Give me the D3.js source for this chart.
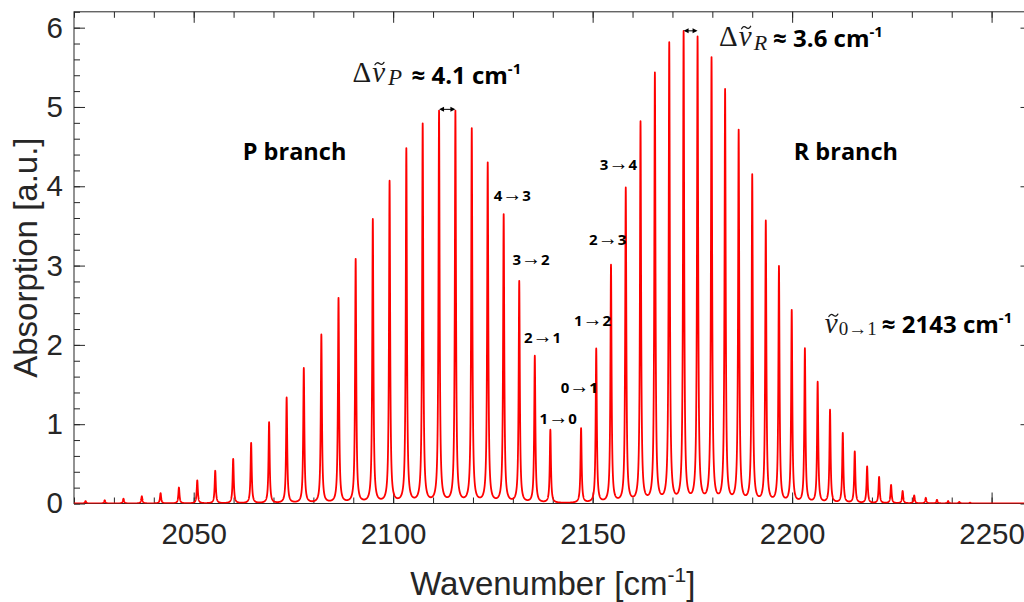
<!DOCTYPE html>
<html><head><meta charset="utf-8">
<script src="https://cdn.jsdelivr.net/npm/d3@7"></script>
<style>html,body{margin:0;padding:0;background:#fff;}svg{display:block;}</style>
</head><body>
<svg id="chart" width="1024" height="602"></svg>
<script>
// ---------------- DATA ----------------
const pBranchWavenumbers = [2022.9, 2027.7, 2032.4, 2037.0, 2041.7, 2046.3, 2050.9, 2055.4, 2059.9, 2064.4,
  2068.9, 2073.3, 2077.6, 2082.0, 2086.3, 2090.6, 2094.9, 2099.1, 2103.3, 2107.4, 2111.5, 2115.6, 2119.7,
  2123.7, 2127.7, 2131.6, 2135.5, 2139.4];
const pBranchAbsorption = [0.03, 0.04, 0.06, 0.09, 0.13, 0.20, 0.29, 0.41, 0.56, 0.76,
  1.02, 1.33, 1.70, 2.12, 2.58, 3.07, 3.57, 4.05, 4.46, 4.77, 4.93, 4.93, 4.71,
  4.28, 3.63, 2.79, 1.85, 0.92];
const rBranchWavenumbers = [2147.1, 2150.9, 2154.6, 2158.3, 2162.0, 2165.6, 2169.2, 2172.8, 2176.3, 2179.8,
  2183.2, 2186.6, 2190.0, 2193.4, 2196.7, 2199.9, 2203.2, 2206.4, 2209.5, 2212.7, 2215.7, 2218.8,
  2221.8, 2224.8, 2227.7, 2230.6, 2233.5, 2236.3, 2239.1, 2241.9, 2244.6];
const rBranchAbsorption = [0.94, 1.94, 2.99, 3.96, 4.79, 5.40, 5.78, 5.92, 5.85, 5.59,
  5.19, 4.68, 4.12, 3.54, 2.97, 2.42, 1.94, 1.52, 1.17, 0.88, 0.65, 0.46,
  0.33, 0.23, 0.155, 0.10, 0.07, 0.045, 0.03, 0.02, 0.01];
const lineHalfWidth = 0.17;           // Lorentzian HWHM, cm-1
const xTickValues = [2050, 2100, 2150, 2200, 2250];
const yTickValues = [0, 1, 2, 3, 4, 5, 6];
const xDomain = [2020, 2260];
const yDomain = [0, 6.2];
const xLabelText = "Wavenumber [cm";
const yLabelText = "Absorption [a.u.]";
const pTransitionLabels = [["4", "3"], ["3", "2"], ["2", "1"], ["1", "0"]];
const rTransitionLabels = [["0", "1"], ["1", "2"], ["2", "3"], ["3", "4"]];
const branchLabels = ["P branch", "R branch"];
const spacingP = "4.1";
const spacingR = "3.6";
const bandOrigin = "2143";

// ---------------- LAYOUT ----------------
const svg = d3.select("#chart");
const L = 74, R = 1031.5, T = 11.8, B = 503.5;
const x = d3.scaleLinear().domain(xDomain).range([L, R]);
const y = d3.scaleLinear().domain(yDomain).range([B, T]);
const axisColor = "#262626";
const tickFont = "'Liberation Sans', Arial, Helvetica, sans-serif";
const boldFont = "'Open Sans', 'Noto Sans', sans-serif";
const serifFont = "'Liberation Serif', 'Times New Roman', serif";

svg.append("defs").append("clipPath").attr("id", "plotclip")
  .append("rect").attr("x", L).attr("y", T).attr("width", R - L).attr("height", B - T);

function styleAxis(g) {
  g.select(".domain").remove();
  g.selectAll(".tick line").attr("stroke", axisColor).attr("stroke-width", 1);
  g.selectAll(".tick text").attr("fill", axisColor).style("font-family", tickFont).style("font-size", "29.5px");
}
const xMinor = x.ticks(24), yMinor = y.ticks(31);
// bottom
svg.append("g").attr("transform", `translate(0,${B})`)
  .call(d3.axisBottom(x).tickValues(xMinor).tickSize(-6).tickFormat("")).call(styleAxis);
svg.append("g").attr("transform", `translate(0,${B})`)
  .call(d3.axisBottom(x).tickValues(xTickValues).tickSize(-11).tickPadding(20).tickFormat(d3.format("d"))).call(styleAxis);
// top
svg.append("g").attr("transform", `translate(0,${T})`)
  .call(d3.axisTop(x).tickValues(xMinor).tickSize(-6).tickFormat("")).call(styleAxis);
svg.append("g").attr("transform", `translate(0,${T})`)
  .call(d3.axisTop(x).tickValues(xTickValues).tickSize(-11).tickFormat("")).call(styleAxis);
// left
svg.append("g").attr("transform", `translate(${L},0)`)
  .call(d3.axisLeft(y).tickValues(yMinor).tickSize(-6).tickFormat("")).call(styleAxis);
svg.append("g").attr("transform", `translate(${L},0)`)
  .call(d3.axisLeft(y).tickValues(yTickValues).tickSize(-11).tickPadding(11).tickFormat(d3.format("d"))).call(styleAxis);
// right
svg.append("g").attr("transform", `translate(${R},0)`)
  .call(d3.axisRight(y).tickValues(yMinor).tickSize(-6).tickFormat("")).call(styleAxis);
svg.append("g").attr("transform", `translate(${R},0)`)
  .call(d3.axisRight(y).tickValues(yTickValues).tickSize(-11).tickFormat("")).call(styleAxis);
// frame
svg.append("rect").attr("x", L).attr("y", T).attr("width", R - L).attr("height", B - T)
  .attr("fill", "none").attr("stroke", axisColor).attr("stroke-width", 1);

// axis labels
const xl = svg.append("text").attr("x", (L + R) / 2).attr("y", 595).attr("text-anchor", "middle")
  .attr("fill", axisColor).style("font-family", tickFont).style("font-size", "33px");
xl.append("tspan").text(xLabelText);
xl.append("tspan").attr("dy", -13).style("font-size", "21px").text("-1");
xl.append("tspan").attr("dy", 13).text("]");
svg.append("text").attr("transform", `translate(37,${(T + B) / 2}) rotate(-90)`).attr("text-anchor", "middle")
  .attr("fill", axisColor).style("font-family", tickFont).style("font-size", "33px").text(yLabelText);

// ---------------- SPECTRUM ----------------
const peaks = pBranchWavenumbers.map((w, i) => [w, pBranchAbsorption[i]])
  .concat(rBranchWavenumbers.map((w, i) => [w, rBranchAbsorption[i]]));
const g2 = lineHalfWidth * lineHalfWidth;
function absorbance(w) {
  let s = 0;
  for (const [c, h] of peaks) s += h * g2 / ((w - c) * (w - c) + g2);
  return s;
}
const grid = d3.range(xDomain[0], xDomain[1] + 0.001, 0.02).concat(peaks.map(p => p[0])).sort((a, b) => a - b);
const spectrum = grid.map(w => [w, absorbance(w)]);
svg.append("path").datum(spectrum).attr("clip-path", "url(#plotclip)")
  .attr("fill", "none").attr("stroke", "#ff0000").attr("stroke-width", 1.8).attr("stroke-linejoin", "round")
  .attr("d", d3.line().x(d => x(d[0])).y(d => y(d[1])));

// ---------------- ANNOTATIONS ----------------
function boldText(px, py, size, txt) {
  return svg.append("text").attr("x", px).attr("y", py).attr("fill", "#000")
    .style("font-family", boldFont).style("font-weight", 700).style("font-size", size + "px").text(txt);
}
boldText(x(2062.3), y(4.33), 23.5, branchLabels[0]);
boldText(x(2200.4), y(4.33), 23.5, branchLabels[1]);

function transition(px, py, pair) {
  const t = svg.append("text").attr("x", px).attr("y", py).attr("fill", "#000")
    .style("font-family", boldFont).style("font-weight", 700).style("font-size", "15px");
  t.append("tspan").text(pair[0]);
  t.append("tspan").style("font-family", serifFont).style("font-weight", 400).style("font-size", "20px").text("\u2192");
  t.append("tspan").text(pair[1]);
}
const pLabelPos = [[2125.2, 3.81], [2129.9, 3.01], [2132.8, 2.02], [2136.7, 1.0]];
const rLabelPos = [[2142.0, 1.39], [2145.3, 2.24], [2149.1, 3.26], [2151.8, 4.21]];
pTransitionLabels.forEach((p, i) => transition(x(pLabelPos[i][0]), y(pLabelPos[i][1]), p));
rTransitionLabels.forEach((p, i) => transition(x(rLabelPos[i][0]), y(rLabelPos[i][1]), p));

// math-style label + bold value, in one text element; the tilde accent is a small path
function mathLabel(px, py, withDelta, sub, subSize, subDx, subDy, valDx, valDy, val) {
  const t = svg.append("text").attr("x", px).attr("y", py).attr("fill", "#1a1a1a")
    .style("font-family", serifFont).style("font-size", "29px");
  if (withDelta) t.append("tspan").text("\u0394");
  t.append("tspan").attr("dx", withDelta ? 1 : 0).style("font-style", "italic").text("\u03bd");
  t.append("tspan").attr("dx", subDx).attr("dy", subDy).style("font-size", subSize + "px")
    .style("font-style", /[A-Z]/.test(sub) ? "italic" : "normal").text(sub);
  t.append("tspan").attr("x", px + valDx).attr("y", py + valDy).attr("fill", "#000")
    .style("font-family", boldFont).style("font-weight", 700).style("font-size", "24px")
    .text("\u2248 " + val + " cm");
  t.append("tspan").attr("dy", -10).attr("fill", "#000")
    .style("font-family", boldFont).style("font-weight", 700).style("font-size", "15px").text("-1");
  // tilde over ν
  const cx = px + (withDelta ? 27 : 8.5), ty = py - 18;
  svg.append("path").attr("fill", "none").attr("stroke", "#1a1a1a").attr("stroke-width", 1.3)
    .attr("stroke-linecap", "round")
    .attr("d", `M${cx - 4.5},${ty + 1.2} Q${cx - 2.5},${ty - 2.2} ${cx},${ty} T${cx + 4.5},${ty - 1.2}`);
  return t;
}
// Δν_P
{
  const px = x(2089.8), py = y(5.32);
  mathLabel(px, py, true, "P", 23, 3, 3, 59, 2, spacingP);
}
// Δν_R
{
  const px = x(2181.7), py = y(5.775);
  mathLabel(px, py, true, "R", 22, 2, 4, 54, 1, spacingR);
}
// ν_{0→1}
{
  const px = x(2208.2), py = y(2.146);
  mathLabel(px, py, false, "0\u21921", 19, 1, 2, 57, 0, bandOrigin);
}
// spacing arrows
function dblArrow(w1, w2, val) {
  const x1 = x(w1), x2 = x(w2), yy = y(val);
  svg.append("line").attr("x1", x1 + 2).attr("x2", x2 - 2).attr("y1", yy).attr("y2", yy)
    .attr("stroke", "#000").attr("stroke-width", 1);
  svg.append("path").attr("fill", "#000")
    .attr("d", `M${x1},${yy}L${x1 + 5},${yy - 2.5}L${x1 + 5},${yy + 2.5}Z M${x2},${yy}L${x2 - 5},${yy - 2.5}L${x2 - 5},${yy + 2.5}Z`);
}
dblArrow(pBranchWavenumbers[20], pBranchWavenumbers[21], 4.97);
dblArrow(rBranchWavenumbers[7], rBranchWavenumbers[8], 5.96);
</script>
</body></html>
